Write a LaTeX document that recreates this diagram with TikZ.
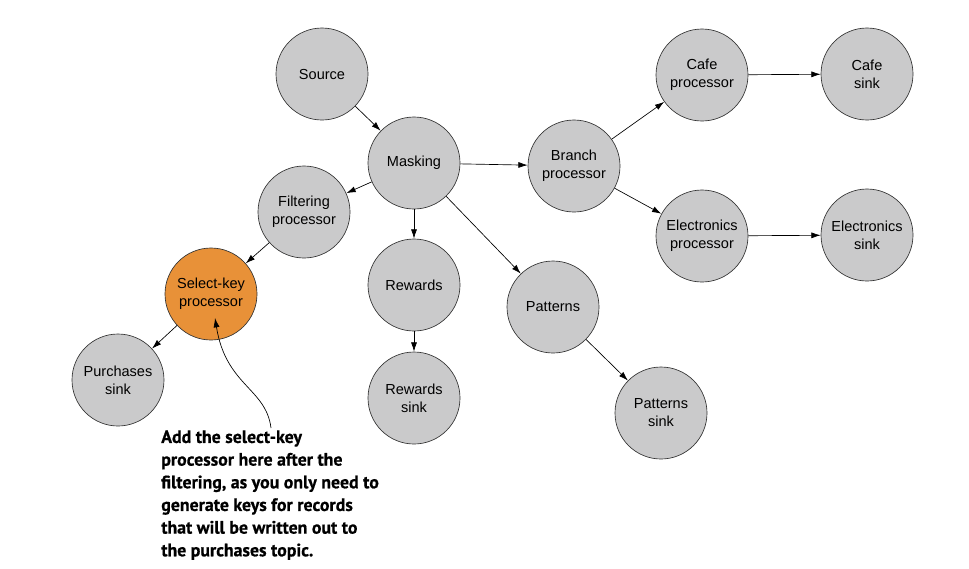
\documentclass[tikz,border=0pt]{standalone}
\usepackage{fontspec}
\setmainfont{Liberation Sans}
\newfontfamily\notefont[FakeStretch=0.99, FakeBold=0.6]{PT Sans Bold}
\usetikzlibrary{arrows.meta}
\definecolor{nodegray}{RGB}{202,202,203}
\definecolor{keyorange}{RGB}{232,145,56}
\tikzset{
  proc/.style = {circle, draw = black!80, line width = .5pt, fill = nodegray,
    minimum size = 69pt, inner sep = 0pt, align = center,
    font = \fontsize{10.9}{13.5}\selectfont},
  flow/.style = {-{Latex[length = 7pt, width = 4.5pt]}, line width = .5pt}
}
\begin{document}
\begin{tikzpicture}[x = .75pt, y = -.75pt]
    \useasboundingbox (0,0) rectangle (969,568);
    % nodes
    \node[proc] (source)   at (322,74)  {Source};
    \node[proc] (masking)  at (414,163) {Masking};
    \node[proc] (filter)   at (304,212) {Filtering\\processor};
    \node[proc, fill = keyorange] (selkey) at (211,294) {Select-key\\processor};
    \node[proc] (purchsink) at (118,380) {Purchases\\sink};
    \node[proc] (rewards)  at (414,285) {Rewards};
    \node[proc] (rewsink)  at (414,398) {Rewards\\sink};
    \node[proc] (patterns) at (553,307) {Patterns};
    \node[proc] (patsink)  at (661,413) {Patterns\\sink};
    \node[proc] (branch)   at (574,166) {Branch\\processor};
    \node[proc] (cafe)     at (702,75)  {Cafe\\processor};
    \node[proc] (cafesink) at (867,74)  {Cafe\\sink};
    \node[proc] (elec)     at (702,236) {Electronics\\processor};
    \node[proc] (elecsink) at (867,235) {Electronics\\sink};
    % connectors
    \draw[flow] (source) -- (masking);
    \draw[flow] (masking) -- (filter);
    \draw[flow] (masking) -- (branch);
    \draw[flow] (masking) -- (rewards);
    \draw[flow] (masking) -- (patterns);
    \draw[flow] (filter) -- (selkey);
    \draw[flow] (selkey) -- (purchsink);
    \draw[flow] (rewards) -- (rewsink);
    \draw[flow] (patterns) -- (patsink);
    \draw[flow] (branch) -- (cafe);
    \draw[flow] (branch) -- (elec);
    \draw[flow] (cafe) -- (cafesink);
    \draw[flow] (elec) -- (elecsink);
    % annotation
    \coordinate (notetail) at (271,428);
    \coordinate (notehead) at (215,318);
    \draw[flow] (notetail) .. controls (266,388) and (226,386) .. (notehead);
    \node[anchor = north west, inner sep = 0pt, align = left,
      font = \notefont\fontsize{13.5}{17}\selectfont] (note) at (161,430)
      {Add the select-key\\processor here after the\\filtering, as you only need to\\generate keys for records\\that will be written out to\\the purchases topic.};
\end{tikzpicture}
\end{document}
